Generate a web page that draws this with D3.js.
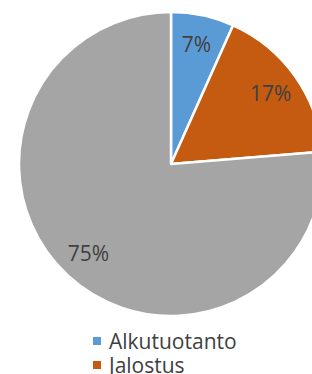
<!DOCTYPE html>
<html>
<head>
<meta charset="utf-8">
<script src="https://cdn.jsdelivr.net/npm/d3@7/dist/d3.min.js"></script>
<style>
  html, body { margin: 0; padding: 0; background: #fff; overflow: hidden; }
  svg { display: block; }
  text { font-family: "Open Sans", sans-serif; fill: #404040; }
</style>
</head>
<body>
<svg id="chart" width="312" height="374"></svg>
<script>
// data
const categories = ["Alkutuotanto", "Jalostus", "Palvelut"];
const shares = [6.7, 17.0, 76.3];
const labels = ["7%", "17%", "75%"];
const colors = ["#5B9BD5", "#C55A11", "#A5A5A5"];

const svg = d3.select("#chart");
const cx = 171, cy = 164, r = 152;

const pie = d3.pie().sort(null).value(d => d.v);
const arcs = pie(categories.map((c, i) => ({ name: c, v: shares[i], label: labels[i], color: colors[i] })));

const arc = d3.arc().innerRadius(0).outerRadius(r);
const labelArc = d3.arc().innerRadius(122).outerRadius(122);

const g = svg.append("g").attr("transform", `translate(${cx},${cy})`);

g.selectAll("path")
  .data(arcs)
  .enter().append("path")
  .attr("d", arc)
  .attr("fill", d => d.data.color)
  .attr("stroke", "#fff")
  .attr("stroke-width", 2.5)
  .attr("stroke-linejoin", "round");

g.selectAll("text.lbl")
  .data(arcs)
  .enter().append("text")
  .attr("class", "lbl")
  .attr("transform", d => `translate(${labelArc.centroid(d)})`)
  .attr("text-anchor", "middle")
  .attr("dy", "0.35em")
  .style("font-size", "21px")
  .text(d => d.data.label);

// legend
const legend = svg.append("g").attr("transform", "translate(93,341)");
const row = legend.selectAll("g")
  .data(arcs)
  .enter().append("g")
  .attr("transform", (d, i) => `translate(0,${i * 24})`);

row.append("rect")
  .attr("x", 0).attr("y", -4)
  .attr("width", 8).attr("height", 8)
  .attr("fill", d => d.data.color);

row.append("text")
  .attr("x", 16)
  .attr("dy", "0.36em")
  .style("font-size", "21px")
  .text(d => d.data.name);
</script>
</body>
</html>
